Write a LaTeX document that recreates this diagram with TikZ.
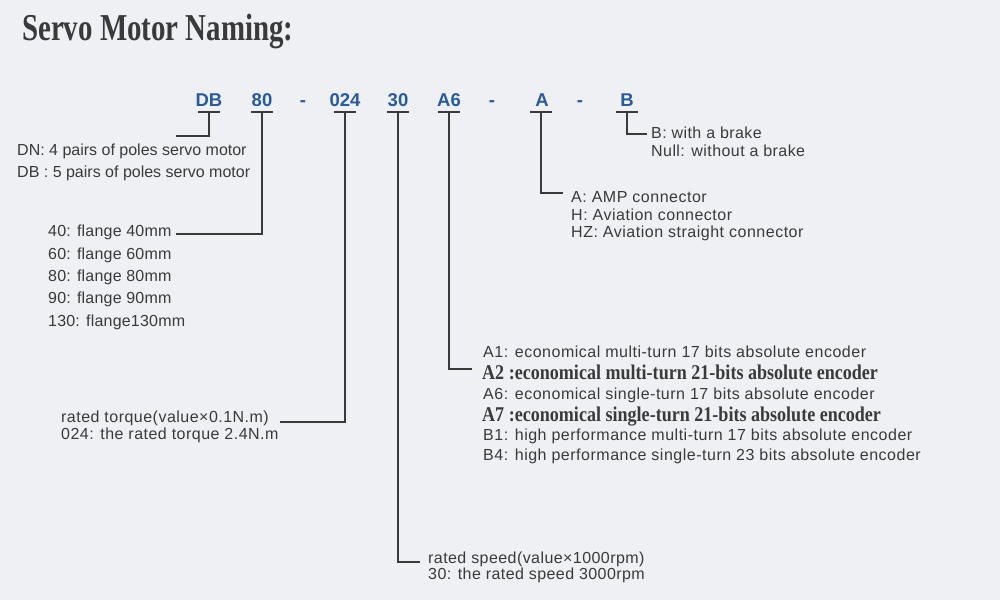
\documentclass[tikz,border=0pt]{standalone}
\usepackage{fontspec}
\usepackage{graphicx}
\setmainfont{Liberation Sans}
\newfontfamily\seriffont{Liberation Serif}
\definecolor{bg}{HTML}{EEF0F3}
\definecolor{txt}{HTML}{3A3A3A}
\definecolor{codeblue}{HTML}{285A9E}
\definecolor{ln}{HTML}{3A3A3A}
\tikzset{
  code/.style={anchor=base, inner sep=0pt, text=codeblue, font=\fontsize{18.5}{20}\selectfont\bfseries},
  lbl/.style={anchor=base west, inner sep=0pt, text=txt, font=\fontsize{16}{18}\selectfont},
  lblw/.style={lbl, font=\fontsize{16}{18}\selectfont\addfontfeature{LetterSpace=#1}},
  lblbig/.style={anchor=base west, inner sep=0pt, text=txt, font=\fontsize{21}{23}\selectfont\seriffont\bfseries},
  uline/.style={draw=ln, line width=1.3pt},
  conn/.style={draw=ln, line width=1.1pt},
}
\begin{document}
\begin{tikzpicture}[x=1pt,y=-1pt]
\useasboundingbox[fill=bg] (0,0) rectangle (1000,600);
% title
\node[anchor=base west, inner sep=0pt, text=txt] (title) at (22,40)
  {\scalebox{0.76}[1]{\fontsize{38}{40}\seriffont\bfseries\selectfont Servo Motor Naming:}};
% code segments
\node[code] (cDB) at (209,106) {DB};
\node[code] (c80) at (262,106) {80};
\node[code] (d1) at (303,106) {-};
\node[code] (c024) at (345,106) {024};
\node[code] (c30) at (398,106) {30};
\node[code] (cA6) at (449,106) {A6};
\node[code] (d2) at (492,106) {-};
\node[code] (cA) at (542,106) {A};
\node[code] (d3) at (580,106) {-};
\node[code] (cB) at (627,106) {B};
% underline anchor coordinates
\coordinate (uDB) at (209,112);
\coordinate (u80) at (262,112);
\coordinate (u024) at (345,112);
\coordinate (u30) at (398,112);
\coordinate (uA6) at (449,112);
\coordinate (uA) at (541,112);
\coordinate (uB) at (627,112);
\foreach \u in {uDB,u80,u024,u30,uA6,uA,uB}
  \draw[uline] ([xshift=-11pt]\u) -- ([xshift=11pt]\u);
% labels
\node[lbl] (tDN) at (17,155) {DN: 4 pairs of poles servo motor};
\node[lbl] (tDB) at (17,177) {DB : 5 pairs of poles servo motor};
\node[lblw=1.3] (f40) at (48,236) {40: flange 40mm};
\node[lblw=1.3] (f60) at (48,259) {60: flange 60mm};
\node[lblw=1.3] (f80) at (48,281) {80: flange 80mm};
\node[lblw=1.3] (f90) at (48,303) {90: flange 90mm};
\node[lblw=1.3] (f130) at (48,326) {130: flange130mm};
\node[lblw=3] (tq1) at (61,422) {rated torque(value×0.1N.m)};
\node[lblw=3] (tq2) at (61,439) {024: the rated torque 2.4N.m};
\node[lblw=2.7] (sp1) at (428,563) {rated speed(value×1000rpm)};
\node[lblw=2.7] (sp2) at (428,579) {30: the rated speed 3000rpm};
\node[lblw=3.2] (eA1) at (483,357) {A1: economical multi-turn 17 bits absolute encoder};
\node[lblbig] (eA2) at (482,379) {\scalebox{0.86}[1]{A2 :economical multi-turn 21-bits absolute encoder}};
\node[lblw=3.2] (eA6) at (483,399) {A6: economical single-turn 17 bits absolute encoder};
\node[lblbig] (eA7) at (482,421) {\scalebox{0.86}[1]{A7 :economical single-turn 21-bits absolute encoder}};
\node[lblw=3.2] (eB1) at (483,440) {B1: high performance multi-turn 17 bits absolute encoder};
\node[lblw=3.2] (eB4) at (483,460) {B4: high performance single-turn 23 bits absolute encoder};
\node[lblw=3.2] (kA) at (571,202) {A: AMP connector};
\node[lblw=3.2] (kH) at (571,220) {H: Aviation connector};
\node[lblw=3.2] (kHZ) at (571,237) {HZ: Aviation straight connector};
\node[lblw=2.7] (bB) at (651,138) {B: with a brake};
\node[lblw=2.7] (bN) at (651,156) {Null: without a brake};
% connector end points
\coordinate (eDB) at (176,136);
\coordinate (e80) at (176,234);
\coordinate (e024) at (280,422);
\coordinate (e30) at (420,562);
\coordinate (eA6x) at (472,369);
\coordinate (eAx) at (563,193);
\coordinate (eBx) at (647,134);
% connectors
\draw[conn] (uDB) |- (eDB);
\draw[conn] (u80) |- (e80);
\draw[conn] (u024) |- (e024);
\draw[conn] (u30) |- (e30);
\draw[conn] (uA6) |- (eA6x);
\draw[conn] (uA) |- (eAx);
\draw[conn] (uB) |- (eBx);
\end{tikzpicture}
\end{document}
